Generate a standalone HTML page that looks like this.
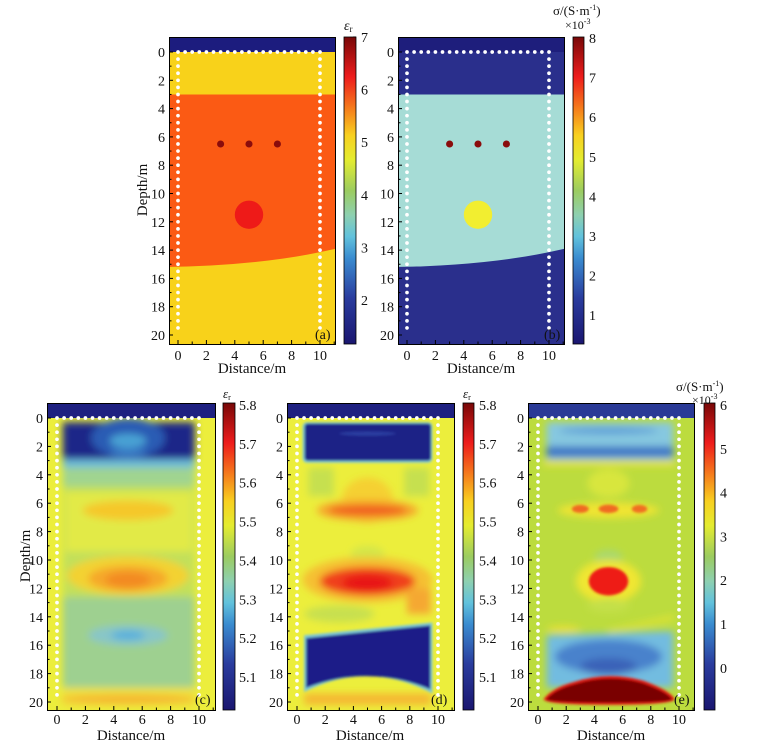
<!DOCTYPE html>
<html><head><meta charset="utf-8">
<style>
html,body{margin:0;padding:0;background:#fff;}
svg{display:block;font-family:"Liberation Serif",serif;}
</style></head>
<body>
<svg id="s" width="759" height="746" viewBox="0 0 759 746" xmlns="http://www.w3.org/2000/svg">
<defs>
<linearGradient id="cm" x1="0" y1="1" x2="0" y2="0">
<stop offset="0" stop-color="#1a1670"/>
<stop offset="0.15" stop-color="#2a3c9e"/>
<stop offset="0.28" stop-color="#3a8cd0"/>
<stop offset="0.35" stop-color="#62c2dc"/>
<stop offset="0.42" stop-color="#8ed0b0"/>
<stop offset="0.5" stop-color="#9ccc60"/>
<stop offset="0.6" stop-color="#e4ec30"/>
<stop offset="0.68" stop-color="#f8d020"/>
<stop offset="0.77" stop-color="#f57a1c"/>
<stop offset="0.87" stop-color="#ee1c1c"/>
<stop offset="1" stop-color="#780808"/>
</linearGradient>
<filter id="bl" x="-20%" y="-20%" width="140%" height="140%"><feGaussianBlur stdDeviation="0.27"/></filter>
<filter id="bs" x="-20%" y="-20%" width="140%" height="140%"><feGaussianBlur stdDeviation="0.1"/></filter>
<clipPath id="ca"><rect x="169" y="37" width="166" height="307"/></clipPath>
<clipPath id="cb"><rect x="398" y="37" width="166" height="307"/></clipPath>
<clipPath id="cc"><rect x="47" y="403" width="168" height="307"/></clipPath>
<clipPath id="cd"><rect x="287" y="403" width="167" height="307"/></clipPath>
<clipPath id="ce"><rect x="528" y="403" width="166" height="307"/></clipPath>
</defs>

<!-- Panel a -->
<g clip-path="url(#ca)">
<g transform="translate(178,52) scale(14.2,14.15)">
<rect x="-2" y="-2" width="15" height="24" fill="#f8d21a"/>
<rect x="-2" y="-2" width="15" height="2" fill="#1c1c7e"/>
<path d="M-2,3 H13 V13.4 Q7,15.2 -2,15.2 Z" fill="#fb5a14"/>
<ellipse cx="5" cy="11.5" rx="1" ry="1" fill="#ee1a18"/>
<ellipse cx="3" cy="6.5" rx="0.25" ry="0.25" fill="#8a0c0c"/>
<ellipse cx="5" cy="6.5" rx="0.25" ry="0.25" fill="#8a0c0c"/>
<ellipse cx="7" cy="6.5" rx="0.25" ry="0.25" fill="#8a0c0c"/>
<g class="dots"/>
</g></g>

<!-- Panel b -->
<g clip-path="url(#cb)">
<g transform="translate(407,52) scale(14.2,14.15)">
<rect x="-2" y="-2" width="15" height="24" fill="#2a2f8c"/>
<rect x="-2" y="-2" width="15" height="2" fill="#1e1e7c"/>
<path d="M-2,3 H13 V13.4 Q7,15.2 -2,15.2 Z" fill="#a6dcd6"/>
<ellipse cx="5" cy="11.5" rx="1" ry="1" fill="#f2ee30"/>
<ellipse cx="3" cy="6.5" rx="0.25" ry="0.25" fill="#8a0c0c"/>
<ellipse cx="5" cy="6.5" rx="0.25" ry="0.25" fill="#8a0c0c"/>
<ellipse cx="7" cy="6.5" rx="0.25" ry="0.25" fill="#8a0c0c"/>
<g class="dots"/>
</g></g>

<!-- Panel c -->
<g clip-path="url(#cc)">
<g transform="translate(57,418) scale(14.2,14.2)">
<rect x="-2" y="-2" width="15" height="24" fill="#ecee3c"/>
<g filter="url(#bl)">
<rect x="0.4" y="3" width="9.3" height="16.3" fill="#c2e05a"/>
<rect x="0.4" y="3.2" width="9.3" height="1.6" fill="#a0d490"/>
<rect x="0.4" y="12.6" width="9.3" height="6.4" fill="#9ed090"/>
<rect x="0.6" y="5.2" width="8.9" height="4.2" fill="#e2ea46"/>
<ellipse cx="5" cy="6.5" rx="3.2" ry="0.7" fill="#f5c82a"/>
<ellipse cx="5" cy="11.1" rx="4.3" ry="1.4" fill="#f3d232"/>
<ellipse cx="5" cy="11.3" rx="2.8" ry="0.9" fill="#f5a82a"/>
<ellipse cx="5" cy="11.4" rx="1.6" ry="0.55" fill="#f38a24"/>
<ellipse cx="5" cy="15.3" rx="2.8" ry="0.7" fill="#88c6c8"/>
<ellipse cx="5" cy="15.3" rx="1.2" ry="0.35" fill="#5ab0dc"/>
<rect x="0.4" y="19.0" width="9.3" height="1.4" fill="#f0e23a"/>
<ellipse cx="5" cy="19.8" rx="4.8" ry="0.35" fill="#f5b830"/>
<rect x="0.4" y="2.6" width="9.3" height="0.9" fill="#6cbcd8"/>
<rect x="0.4" y="0.3" width="9.3" height="2.6" fill="#1c2688"/>
<ellipse cx="5" cy="1.4" rx="2.6" ry="1.4" fill="#2c5cb4"/>
<ellipse cx="5" cy="1.6" rx="1.3" ry="0.5" fill="#4aa2d4"/>
<ellipse cx="5" cy="2.4" rx="1.3" ry="0.25" fill="#3a80c8"/>
</g>
<rect x="-2" y="-2" width="15" height="2" fill="#1e2080"/>
<g class="dots"/>
</g></g>

<!-- Panel d -->
<g clip-path="url(#cd)">
<g transform="translate(297,418) scale(14.1,14.2)">
<rect x="-2" y="-2" width="15" height="24" fill="#ecee3c"/>
<g filter="url(#bl)">
<rect x="0.8" y="3.5" width="1.8" height="2" fill="#c6e050"/>
<rect x="7.6" y="3.5" width="1.8" height="2" fill="#c6e050"/>
<ellipse cx="5" cy="5.8" rx="1.8" ry="1.6" fill="#f5d032"/>
<ellipse cx="5" cy="6.5" rx="3.6" ry="0.75" fill="#f5a82c"/>
<ellipse cx="5" cy="6.5" rx="2.8" ry="0.35" fill="#f05a1e"/>
<ellipse cx="5" cy="9.6" rx="1.2" ry="0.6" fill="#d4e648"/>
<ellipse cx="5" cy="11.4" rx="4.6" ry="1.6" fill="#f5c030"/>
<ellipse cx="5" cy="11.5" rx="3.4" ry="1.0" fill="#f0401e"/>
<ellipse cx="5" cy="11.6" rx="1.8" ry="0.6" fill="#e81818"/>
<rect x="7.8" y="12" width="1.7" height="1.8" fill="#f5a830"/>
<ellipse cx="3" cy="13.8" rx="2.5" ry="0.6" fill="#c8e050"/>
<rect x="0.5" y="19.4" width="9" height="0.8" fill="#f5b830"/>
</g>
<g filter="url(#bs)">
<rect x="0.4" y="0.3" width="9.2" height="2.85" rx="0.3" fill="#7cc8d8"/>
<rect x="0.55" y="0.4" width="8.95" height="2.6" rx="0.2" fill="#1c2186"/>
<path d="M0.5,15.3 L9.6,14.4 V19.4 Q5,17.0 0.5,19.3 Z" fill="#7cc8d8"/>
<path d="M0.65,15.5 L9.45,14.6 V19.1 Q5,17.3 0.65,19.0 Z" fill="#1c1e88"/>
<ellipse cx="5" cy="1.1" rx="2" ry="0.15" fill="#2c3ca0"/>
</g>
<rect x="-2" y="-2" width="15" height="2" fill="#1e2080"/>
<g class="dots"/>
</g></g>

<!-- Panel e -->
<g clip-path="url(#ce)">
<g transform="translate(538,418) scale(14.1,14.2)">
<rect x="-2" y="-2" width="15" height="24" fill="#bcdc3e"/>
<g filter="url(#bl)">
<ellipse cx="5" cy="4.6" rx="1.5" ry="1" fill="#d8e63c"/>
<ellipse cx="5" cy="6.5" rx="3.6" ry="0.55" fill="#f0e432"/>
<ellipse cx="5" cy="9.8" rx="1" ry="0.5" fill="#a8d870"/>
<ellipse cx="5" cy="11.5" rx="2.3" ry="1.5" fill="#f0e632"/>
<ellipse cx="5" cy="13.2" rx="1.5" ry="0.5" fill="#c4e04a"/>
<rect x="0.4" y="3.05" width="9.3" height="0.3" fill="#f2e432"/>
<ellipse cx="1.8" cy="14.85" rx="1.2" ry="0.2" fill="#f0e030"/>
<path d="M5,14.9 L9.6,13.9 V14.2 L5,15.1 Z" fill="#e8e432"/>
<rect x="0.6" y="0.3" width="9" height="2.7" fill="#86c8e0"/>
<rect x="0.6" y="2.0" width="9" height="0.75" fill="#3e74c4"/>
<ellipse cx="5" cy="0.9" rx="3.5" ry="0.25" fill="#5e9ed6"/>
<path d="M0.6,15.3 L9.6,15 V19 L0.6,19 Z" fill="#72bce0"/>
<ellipse cx="5" cy="16.8" rx="3.8" ry="1.2" fill="#4a82cc"/>
<ellipse cx="5" cy="17.5" rx="2" ry="0.6" fill="#3a62b8"/>
</g>
<g filter="url(#bs)">
<ellipse cx="3" cy="6.4" rx="0.6" ry="0.28" fill="#f06a20"/>
<ellipse cx="5" cy="6.4" rx="0.7" ry="0.3" fill="#f06a20"/>
<ellipse cx="7.2" cy="6.4" rx="0.55" ry="0.28" fill="#f07020"/>
<ellipse cx="5" cy="11.5" rx="1.4" ry="1" fill="#ee1a18"/>
<path d="M0.4,19.8 Q1,19 2.5,18.6 Q5,17.8 7.5,18.5 Q9.4,19.2 9.7,19.8 Q9.6,20.2 5,20.2 Q0.5,20.2 0.4,19.8 Z" fill="#e81a14"/>
<path d="M0.6,19.8 Q1.2,19.1 2.6,18.75 Q5,18.0 7.4,18.65 Q9.2,19.3 9.5,19.8 Q9.4,20.05 5,20.05 Q0.7,20.05 0.6,19.8 Z" fill="#7a0606"/>
</g>
<rect x="-2" y="-2" width="15" height="2" fill="#2a3a96"/>
<g class="dots"/>
</g></g>

<!-- frames -->
<g fill="none" stroke="#000" stroke-width="1">
<rect x="169.5" y="37.5" width="166" height="307"/>
<rect x="398.5" y="37.5" width="166" height="307"/>
<rect x="47.5" y="403.5" width="168" height="307"/>
<rect x="287.5" y="403.5" width="167" height="307"/>
<rect x="528.5" y="403.5" width="166" height="307"/>
</g>
<g id="ticks" stroke="#000" stroke-width="1"></g>

<!-- colorbars -->
<g stroke="#000" stroke-width="0.8">
<rect x="344" y="37" width="12" height="307" fill="url(#cm)"/>
<rect x="573" y="37" width="11" height="307" fill="url(#cm)"/>
<rect x="223" y="403" width="12" height="307" fill="url(#cm)"/>
<rect x="463" y="403" width="11" height="307" fill="url(#cm)"/>
<rect x="704" y="403" width="11" height="307" fill="url(#cm)"/>
</g>

<g font-size="14" fill="#111">
<g text-anchor="end">
<text x="165" y="57">0</text><text x="165" y="85.3">2</text><text x="165" y="113.6">4</text><text x="165" y="141.9">6</text><text x="165" y="170.2">8</text><text x="165" y="198.5">10</text><text x="165" y="226.8">12</text><text x="165" y="255.1">14</text><text x="165" y="283.4">16</text><text x="165" y="311.7">18</text><text x="165" y="340">20</text>
<text x="394" y="57">0</text><text x="394" y="85.3">2</text><text x="394" y="113.6">4</text><text x="394" y="141.9">6</text><text x="394" y="170.2">8</text><text x="394" y="198.5">10</text><text x="394" y="226.8">12</text><text x="394" y="255.1">14</text><text x="394" y="283.4">16</text><text x="394" y="311.7">18</text><text x="394" y="340">20</text>
<text x="43" y="423">0</text><text x="43" y="451.4">2</text><text x="43" y="479.8">4</text><text x="43" y="508.2">6</text><text x="43" y="536.6">8</text><text x="43" y="565">10</text><text x="43" y="593.4">12</text><text x="43" y="621.8">14</text><text x="43" y="650.2">16</text><text x="43" y="678.6">18</text><text x="43" y="707">20</text>
<text x="283" y="423">0</text><text x="283" y="451.4">2</text><text x="283" y="479.8">4</text><text x="283" y="508.2">6</text><text x="283" y="536.6">8</text><text x="283" y="565">10</text><text x="283" y="593.4">12</text><text x="283" y="621.8">14</text><text x="283" y="650.2">16</text><text x="283" y="678.6">18</text><text x="283" y="707">20</text>
<text x="524" y="423">0</text><text x="524" y="451.4">2</text><text x="524" y="479.8">4</text><text x="524" y="508.2">6</text><text x="524" y="536.6">8</text><text x="524" y="565">10</text><text x="524" y="593.4">12</text><text x="524" y="621.8">14</text><text x="524" y="650.2">16</text><text x="524" y="678.6">18</text><text x="524" y="707">20</text>
</g>
<g text-anchor="middle">
<text x="178" y="360">0</text><text x="206.4" y="360">2</text><text x="234.8" y="360">4</text><text x="263.2" y="360">6</text><text x="291.6" y="360">8</text><text x="320" y="360">10</text>
<text x="407" y="360">0</text><text x="435.4" y="360">2</text><text x="463.8" y="360">4</text><text x="492.2" y="360">6</text><text x="520.6" y="360">8</text><text x="549" y="360">10</text>
<text x="57" y="724">0</text><text x="85.4" y="724">2</text><text x="113.8" y="724">4</text><text x="142.2" y="724">6</text><text x="170.6" y="724">8</text><text x="199" y="724">10</text>
<text x="297" y="724">0</text><text x="325.2" y="724">2</text><text x="353.4" y="724">4</text><text x="381.6" y="724">6</text><text x="409.8" y="724">8</text><text x="438" y="724">10</text>
<text x="538" y="724">0</text><text x="566.2" y="724">2</text><text x="594.4" y="724">4</text><text x="622.6" y="724">6</text><text x="650.8" y="724">8</text><text x="679" y="724">10</text>
<g font-size="15">
<text x="252" y="373">Distance/m</text>
<text x="481" y="373">Distance/m</text>
<text x="131" y="740">Distance/m</text>
<text x="370" y="740">Distance/m</text>
<text x="611" y="740">Distance/m</text>
<text transform="translate(147,190) rotate(-90)">Depth/m</text>
<text transform="translate(30,556) rotate(-90)">Depth/m</text>
</g>
</g>
<text x="315" y="339">(a)</text>
<text x="544" y="339">(b)</text>
<text x="195" y="704">(c)</text>
<text x="431" y="704">(d)</text>
<text x="674" y="704">(e)</text>
<text x="361" y="42">7</text><text x="361" y="94.6">6</text><text x="361" y="147.2">5</text><text x="361" y="199.8">4</text><text x="361" y="252.4">3</text><text x="361" y="305">2</text>
<text x="589" y="43">8</text><text x="589" y="82.6">7</text><text x="589" y="122.2">6</text><text x="589" y="161.8">5</text><text x="589" y="201.4">4</text><text x="589" y="241">3</text><text x="589" y="280.6">2</text><text x="589" y="320.2">1</text>
<text x="239" y="410">5.8</text><text x="239" y="448.9">5.7</text><text x="239" y="487.7">5.6</text><text x="239" y="526.6">5.5</text><text x="239" y="565.4">5.4</text><text x="239" y="604.3">5.3</text><text x="239" y="643.2">5.2</text><text x="239" y="682">5.1</text>
<text x="479" y="410">5.8</text><text x="479" y="448.9">5.7</text><text x="479" y="487.7">5.6</text><text x="479" y="526.6">5.5</text><text x="479" y="565.4">5.4</text><text x="479" y="604.3">5.3</text><text x="479" y="643.2">5.2</text><text x="479" y="682">5.1</text>
<text x="720" y="410">6</text><text x="720" y="453.8">5</text><text x="720" y="497.6">4</text><text x="720" y="541.4">3</text><text x="720" y="585.2">2</text><text x="720" y="629">1</text><text x="720" y="672.8">0</text>
<text x="344" y="30" font-style="italic">ε<tspan font-size="9" dy="2" font-style="normal">r</tspan></text>
<text x="223" y="398" font-style="italic" font-size="13">ε<tspan font-size="8" dy="2" font-style="normal">r</tspan></text>
<text x="463" y="398" font-style="italic" font-size="13">ε<tspan font-size="8" dy="2" font-style="normal">r</tspan></text>
<text x="553" y="15" font-size="13">σ/(S·m<tspan font-size="8" dy="-5">-1</tspan><tspan dy="5">)</tspan></text>
<text x="565" y="29" font-size="12">×10<tspan font-size="8" dy="-5">-3</tspan></text>
<text x="676" y="391" font-size="13">σ/(S·m<tspan font-size="8" dy="-5">-1</tspan><tspan dy="5">)</tspan></text>
<text x="692" y="404" font-size="12">×10<tspan font-size="8" dy="-5">-3</tspan></text>
</g>
</svg>
<script>
(function(){
var NS="http://www.w3.org/2000/svg";
document.querySelectorAll('g.dots').forEach(function(g){
  function d(x,y){var c=document.createElementNS(NS,'ellipse');c.setAttribute('cx',x);c.setAttribute('cy',y);c.setAttribute('rx',0.13);c.setAttribute('ry',0.13);c.setAttribute('fill','#fff');g.appendChild(c);}
  for(var z=0;z<=19.51;z+=0.5){d(0,z);d(10,z);}
  for(var x=0.5;x<=9.51;x+=0.5){d(x,0);}
});
var T=document.getElementById('ticks');
function ln(x1,y1,x2,y2){var l=document.createElementNS(NS,'line');l.setAttribute('x1',x1);l.setAttribute('y1',y1);l.setAttribute('x2',x2);l.setAttribute('y2',y2);T.appendChild(l);}
var P=[[169,335,344,178,14.2,52,14.15],[398,564,344,407,14.2,52,14.15],[47,215,710,57,14.2,418,14.2],[287,454,710,297,14.1,418,14.2],[528,694,710,538,14.1,418,14.2]];
P.forEach(function(p){
  for(var z=0;z<=20;z++){var y=p[5]+p[6]*z;ln(p[0],y,p[0]+(z%2?2.5:4),y);}
  for(var x=0;x<=11;x++){var X=p[3]+p[4]*x;if(X>p[1])break;ln(X,p[2],X,p[2]-(x%2?2.5:4));}
});
var C=[[356,[42,94.6,147.2,199.8,252.4,305]],[584,[43,82.6,122.2,161.8,201.4,241,280.6,320.2]],[235,[410,448.9,487.7,526.6,565.4,604.3,643.2,682]],[474,[410,448.9,487.7,526.6,565.4,604.3,643.2,682]],[715,[410,453.8,497.6,541.4,585.2,629,672.8]]];
C.forEach(function(c){c[1].forEach(function(y){ln(c[0]-3,y-5,c[0],y-5);});});
})();
</script>
</body></html>
